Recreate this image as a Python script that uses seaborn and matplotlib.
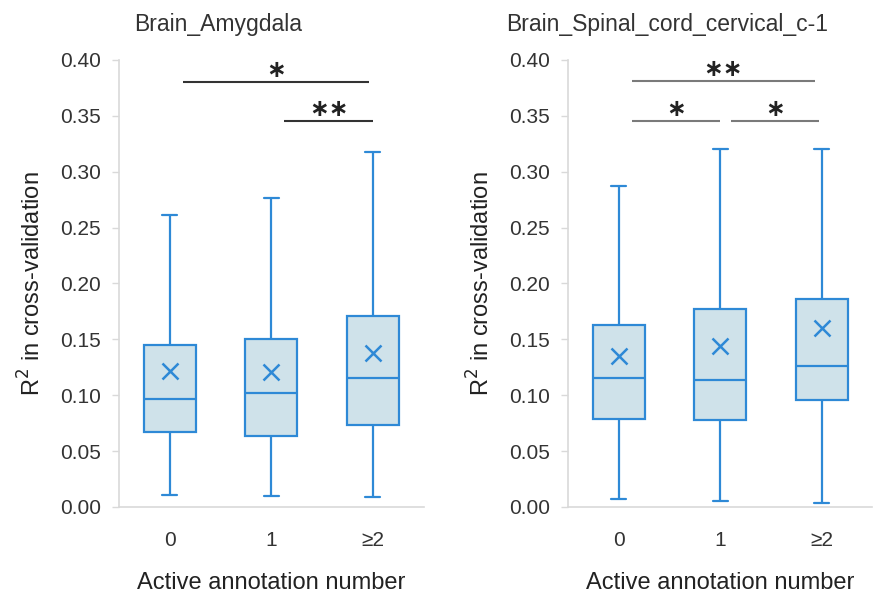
import numpy as np
import pandas as pd
import matplotlib
matplotlib.use('Agg')
import matplotlib.pyplot as plt
import seaborn as sns

# categories on the x axis
groups = ['0', '1', '≥2']

# five-number summaries (min, q1, median, q3, max) and means
amy_min = [0.0105, 0.0099, 0.0090]
amy_q1 = [0.067, 0.063, 0.073]
amy_med = [0.0965, 0.102, 0.115]
amy_q3 = [0.145, 0.150, 0.171]
amy_max = [0.261, 0.276, 0.318]
amy_mean = [0.1215, 0.121, 0.138]

spc_min = [0.0071, 0.0056, 0.0036]
spc_q1 = [0.0786, 0.078, 0.0953]
spc_med = [0.1153, 0.1138, 0.126]
spc_q3 = [0.163, 0.1772, 0.186]
spc_max = [0.287, 0.320, 0.320]
spc_mean = [0.1346, 0.144, 0.160]

# significance brackets: (from, to, height, label)
amy_sig = [(0.135, 1.96, 0.3806, '∗'), (1.13, 2.0, 0.3454, '∗∗')]
spc_sig = [(0.13, 1.93, 0.381, '∗∗'), (0.13, 1.0, 0.3455, '∗'), (1.11, 1.97, 0.3455, '∗')]

titles = ['Brain_Amygdala', 'Brain_Spinal_cord_cervical_c-1']

edge = '#2E89D6'
fill = '#CFE2EA'

sns.set_style('white')
plt.rcParams['font.family'] = ['Liberation Sans', 'DejaVu Sans']


def long_frame(mins, q1s, meds, q3s, maxs):
    rows = []
    for g, a, b, c, d, e in zip(groups, mins, q1s, meds, q3s, maxs):
        for v in (a, b, c, d, e):
            rows.append({'group': g, 'r2': v})
    return pd.DataFrame(rows)


fig = plt.figure(figsize=(8.75, 6.02), dpi=100)
ax1 = fig.add_axes([0.136, 0.158, 0.348, 0.7425])
ax2 = fig.add_axes([0.649, 0.158, 0.348, 0.7425])

panels = [
    (ax1, long_frame(amy_min, amy_q1, amy_med, amy_q3, amy_max), amy_mean, amy_sig, '#333333'),
    (ax2, long_frame(spc_min, spc_q1, spc_med, spc_q3, spc_max), spc_mean, spc_sig, '#7a7a7a'),
]

for i, (ax, df, means, sig, sig_col) in enumerate(panels):
    sns.boxplot(data=df, x='group', y='r2', order=groups, ax=ax, whis=(0, 100),
                width=0.51, showfliers=False,
                boxprops=dict(facecolor=fill, edgecolor=edge, linewidth=1.6),
                medianprops=dict(color=edge, linewidth=1.6),
                whiskerprops=dict(color=edge, linewidth=1.6),
                capprops=dict(color=edge, linewidth=1.6))
    # shorten caps
    for ln in ax.lines:
        xd = np.asarray(ln.get_xdata(), dtype=float)
        yd = np.asarray(ln.get_ydata(), dtype=float)
        if len(xd) == 2 and yd[0] == yd[1] and abs(xd[1] - xd[0]) < 0.4:
            c = xd.mean()
            ln.set_xdata([c - 0.075, c + 0.075])
    sns.pointplot(x=groups, y=means, order=groups, ax=ax, linestyle='none',
                  markers='x', color=edge, markersize=11, markeredgewidth=1.8,
                  errorbar=None)

    for x0, x1, h, lab in sig:
        ax.plot([x0, x1], [h, h], color=sig_col, lw=1.5, solid_capstyle='butt')
        ax.text((x0 + x1) / 2, h + 0.0105, lab, ha='center', va='center',
                fontsize=17, color='#222222', family='DejaVu Sans', fontweight='bold')

    ax.set_xlim(-0.5, 2.5)
    ax.set_ylim(0, 0.40)
    ax.set_yticks(np.arange(0, 0.401, 0.05))
    ax.set_yticklabels([f'{v:.2f}' for v in np.arange(0, 0.401, 0.05)])
    ax.tick_params(axis='y', left=True, length=5, width=1, color='#d9d9d9',
                   labelsize=15, labelcolor='#333333', pad=8)
    ax.tick_params(axis='x', bottom=False, labelsize=15, labelcolor='#333333', pad=14)
    for s in ['top', 'right']:
        ax.spines[s].set_visible(False)
    for s in ['left', 'bottom']:
        ax.spines[s].set_color('#d9d9d9')
        ax.spines[s].set_linewidth(1.2)
    ax.set_xlabel('Active annotation number', fontsize=17, color='#222222', labelpad=16)
    ax.set_ylabel('R$^2$ in cross-validation', fontsize=17, color='#222222', labelpad=10)
    ax.set_title(titles[i], fontsize=16.5, color='#333333', x=0.325, y=1.045)

fig.savefig('out.png', dpi=100)
